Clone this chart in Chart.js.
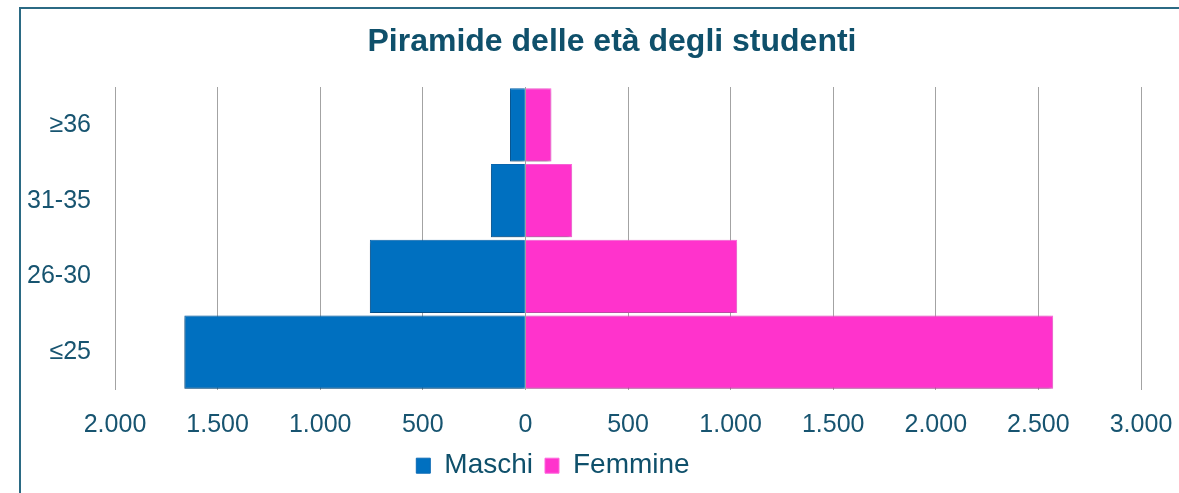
<!DOCTYPE html>
<html lang="it">
<head>
<meta charset="utf-8">
<title>Piramide delle età degli studenti</title>
<script src="https://cdn.jsdelivr.net/npm/chart.js@4/dist/chart.umd.min.js"></script>
<style>
  html, body { margin: 0; padding: 0; background: #ffffff; overflow: hidden; }
  .frame {
    position: absolute;
    left: 19px;
    top: 7px;
    width: 2000px;
    height: 2000px;
    border-left: 2px solid #2b6a84;
    border-top: 2px solid #2b6a84;
  }
  .wrap { position: absolute; left: 0; top: 0; width: 1179px; height: 493px; }
</style>
</head>
<body>
<div class="frame"></div>
<div class="wrap"><canvas id="pyramid"></canvas></div>
<script>
const ageGroups = ['≥36', '31-35', '26-30', '≤25'];
const maleCounts = [75, 168, 758, 1662];
const femaleCounts = [127, 228, 1032, 2572];

const AXIS_MIN = -2000;
const AXIS_MAX = 3000;
const AXIS_STEP = 500;

const FONT = '"Liberation Sans", Arial, sans-serif';
const TEXT_DARK = '#0f506b';
const TEXT_AXIS = '#175470';

// Excel put title and legend on their own centers, not the plot's
const TITLE_CENTER_X = 612;
const LEGEND_CENTER_X = 553;

function formatThousands(value) {
  return String(Math.abs(value)).replace(/\B(?=(\d{3})+(?!\d))/g, '.');
}

function moveBoxCenter(box, centerX) {
  if (!box) return;
  const shift = centerX - (box.left + box.right) / 2;
  box.left += shift;
  box.right += shift;
}

const recenterPlugin = {
  id: 'recenter',
  afterLayout(chart) {
    moveBoxCenter(chart.titleBlock, TITLE_CENTER_X);
    moveBoxCenter(chart.legend, LEGEND_CENTER_X);
  }
};

// soft drop shadow under the bars, like the office chart
const barShadowPlugin = {
  id: 'barShadow',
  beforeDatasetsDraw(chart) {
    const ctx = chart.ctx;
    ctx.save();
    ctx.shadowColor = 'rgba(0, 0, 0, 0.35)';
    ctx.shadowBlur = 4;
    ctx.shadowOffsetX = -1;
    ctx.shadowOffsetY = 2;
  },
  afterDatasetsDraw(chart) {
    chart.ctx.restore();
  }
};

new Chart(document.getElementById('pyramid'), {
  type: 'bar',
  data: {
    labels: ageGroups,
    datasets: [
      {
        label: 'Maschi',
        data: maleCounts.map((v) => -v),
        backgroundColor: '#0070c0',
        borderColor: '#0a6ab5',
        borderWidth: 1,
        barPercentage: 0.97,
        categoryPercentage: 1
      },
      {
        label: 'Femmine',
        data: femaleCounts,
        backgroundColor: '#ff33cc',
        borderColor: '#ff66dd',
        borderWidth: 1,
        barPercentage: 0.97,
        categoryPercentage: 1
      }
    ]
  },
  options: {
    indexAxis: 'y',
    responsive: true,
    maintainAspectRatio: false,
    animation: false,
    layout: {
      padding: { left: 0, right: 38, top: 0, bottom: 3.3 }
    },
    plugins: {
      title: {
        display: true,
        text: 'Piramide delle età degli studenti',
        color: TEXT_DARK,
        font: { family: FONT, size: 32, weight: 'bold' },
        padding: { top: 23, bottom: 25.6 }
      },
      legend: {
        position: 'bottom',
        labels: {
          color: TEXT_DARK,
          font: { family: FONT, size: 28 },
          boxWidth: 14,
          boxHeight: 15,
          padding: 12
        }
      },
      tooltip: {
        callbacks: {
          label: (ctx) => `${ctx.dataset.label}: ${formatThousands(ctx.raw)}`
        }
      }
    },
    scales: {
      x: {
        stacked: true,
        min: AXIS_MIN,
        max: AXIS_MAX,
        ticks: {
          stepSize: AXIS_STEP,
          color: TEXT_AXIS,
          font: { family: FONT, size: 25 },
          padding: 0,
          maxRotation: 0,
          callback: (value) => formatThousands(value)
        },
        // invisible tick marks give the label gap without widening the side padding
        grid: {
          color: '#a3a3a3',
          lineWidth: 1,
          drawTicks: true,
          tickLength: 19.7,
          tickColor: 'rgba(0,0,0,0)'
        },
        border: { display: false }
      },
      y: {
        stacked: true,
        ticks: {
          color: TEXT_AXIS,
          font: { family: FONT, size: 25 },
          padding: 24
        },
        grid: { display: false, drawTicks: false },
        border: { display: false },
        afterFit: (scale) => { scale.width = 115; }
      }
    }
  },
  plugins: [recenterPlugin, barShadowPlugin]
});
</script>
</body>
</html>
